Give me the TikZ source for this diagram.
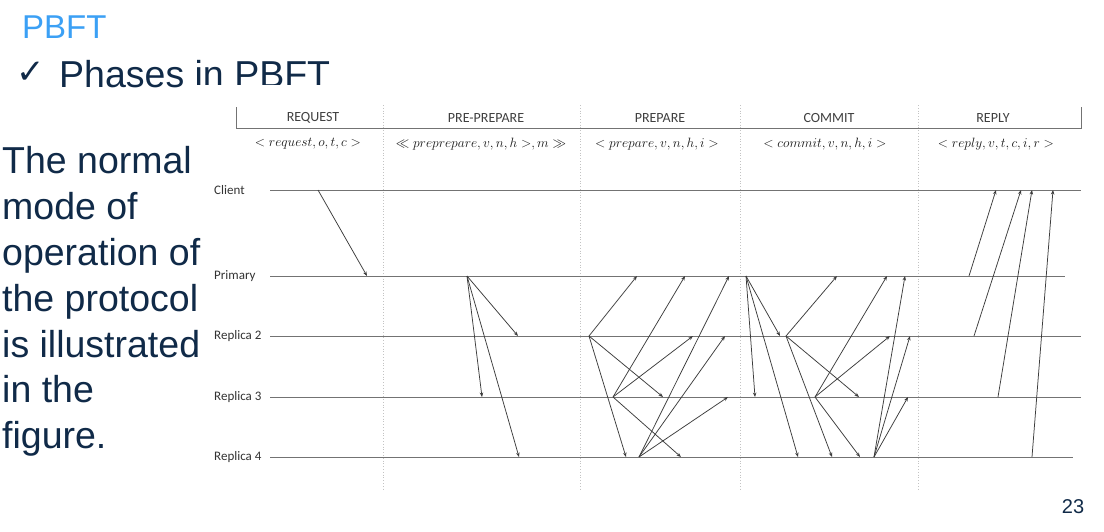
\RequirePackage{fix-cm}
\documentclass[tikz,border=0pt]{standalone}
\usepackage{fontspec}
\setmainfont{Liberation Sans}
\newfontfamily\calfont{Carlito}
\newfontfamily\symfont{DejaVu Sans}
\usetikzlibrary{arrows.meta}
\definecolor{ttlblue}{RGB}{59,160,245}
\definecolor{navy}{RGB}{16,42,72}
\definecolor{lifegray}{RGB}{115,115,115}
\definecolor{arrgray}{RGB}{60,60,60}
\definecolor{divgray}{RGB}{195,195,195}
\def\laneC{190}
\def\laneP{276}
\def\laneB{336}
\def\laneT{397}
\def\laneF{457}
\begin{document}
\begin{tikzpicture}[x=1pt,y=-1pt,
  slidetxt/.style={anchor=base west, inner sep=0pt, text=navy, font=\fontsize{37.5}{37.5}\selectfont},
  lanelbl/.style={anchor=west, inner sep=0pt, font=\calfont\fontsize{13}{13}\selectfont, text=black!80},
  phaselbl/.style={inner sep=0pt, font=\calfont\fontsize{14}{14}\selectfont, text=black!75},
  msgfmt/.style={inner sep=0pt, font=\fontsize{13.5}{13.5}\selectfont, text=black!90},
  life/.style={draw=lifegray, line width=1pt},
  divider/.style={draw=divgray, dotted, line width=0.8pt},
  frameline/.style={draw=lifegray, line width=1pt},
  msg/.style={draw=arrgray, line width=0.75pt, -{Stealth[length=4.5pt,width=3.5pt]}},
]
\useasboundingbox[fill=white] (0,0) rectangle (1104,531);

% slide title and subtitle
\node[anchor=base west, inner sep=0pt, text=ttlblue, font=\fontsize{33}{33}\selectfont] (title) at (22,38) {PBFT};
\node[anchor=base west, inner sep=0pt, text=navy, font=\symfont\fontsize{34}{34}\selectfont] (check) at (16,83) {✓};
\node[anchor=base west, inner sep=0pt, text=navy, font=\fontsize{37.5}{37.5}\selectfont] (subtitle) at (59,87) {Phases in PBFT};

% diagram background (covers bottom of subtitle)
\fill[white] (197,85) rectangle (1100,495);

% left text
\node[slidetxt] (t1) at (2,173) {The normal};
\node[slidetxt] (t2) at (2,219) {mode of};
\node[slidetxt] (t3) at (2,265) {operation of};
\node[slidetxt] (t4) at (2,311) {the protocol};
\node[slidetxt] (t5) at (2,357) {is illustrated};
\node[slidetxt] (t6) at (2,402) {in the};
\node[slidetxt] (t7) at (2,448) {figure.};

% page number
\node[inner sep=0pt, text=navy, font=\fontsize{20}{20}\selectfont] (pagenum) at (1073,507) {23};

% header frame
\draw[frameline] (236,107) -- (236,128) -- (1081,128) -- (1081,107);

% phase dividers
\foreach \dx in {383,580,740,918} \draw[divider] (\dx,105) -- (\dx,489);

% phase labels
\node[phaselbl] (ph1) at (313,118) {REQUEST};
\node[phaselbl] (ph2) at (486,118) {PRE-PREPARE};
\node[phaselbl] (ph3) at (660,118) {PREPARE};
\node[phaselbl] (ph4) at (829,118) {COMMIT};
\node[phaselbl] (ph5) at (993,118) {REPLY};

% message formats
\node[msgfmt] (f1) at (308,144) {$<request,o,t,c>$};
\node[msgfmt] (f2) at (481,144) {$\ll preprepare,v,n,h>,m\gg$};
\node[msgfmt] (f3) at (657,144) {$<prepare,v,n,h,i>$};
\node[msgfmt] (f4) at (825,144) {$<commit,v,n,h,i>$};
\node[msgfmt] (f5) at (996,144) {$<reply,v,t,c,i,r>$};

% lanes
\node[lanelbl] (client) at (214,\laneC) {Client};
\node[lanelbl] (primary) at (214,\laneP) {Primary};
\node[lanelbl] (rep2) at (214,\laneB) {Replica 2};
\node[lanelbl] (rep3) at (214,\laneT) {Replica 3};
\node[lanelbl] (rep4) at (214,\laneF) {Replica 4};
\draw[life] (270,\laneC) -- (1081,\laneC);
\draw[life] (270,\laneP) -- (1065,\laneP);
\draw[life] (270,\laneB) -- (1081,\laneB);
\draw[life] (270,\laneT) -- (1081,\laneT);
\draw[life] (270,\laneF) -- (1073,\laneF);

% messages
\foreach \sx/\sy/\ex/\ey [count=\i] in {
  318/\laneC/367/\laneP,
  467/\laneP/518/\laneB, 467/\laneP/482/\laneT, 467/\laneP/519/\laneF,
  589/\laneB/637/\laneP, 589/\laneB/663/\laneT, 589/\laneB/626/\laneF,
  613/\laneT/685/\laneP, 613/\laneT/693/\laneB, 613/\laneT/681/\laneF,
  639/\laneF/729/\laneP, 639/\laneF/725/\laneB, 639/\laneF/728/\laneT,
  746/\laneP/780/\laneB, 746/\laneP/755/\laneT, 746/\laneP/798/\laneF,
  786/\laneB/837/\laneP, 786/\laneB/859/\laneT, 786/\laneB/832/\laneF,
  815/\laneT/887/\laneP, 815/\laneT/890/\laneB, 815/\laneT/860/\laneF,
  874/\laneF/905/\laneP, 874/\laneF/910/\laneB, 874/\laneF/908/\laneT,
  969/\laneP/996/\laneC, 974/\laneB/1021/\laneC, 998/\laneT/1032/\laneC, 1032/\laneF/1053/\laneC}
{
  \coordinate (m\i s) at (\sx,\sy);
  \coordinate (m\i e) at (\ex,\ey);
  \draw[msg] (m\i s) -- (m\i e);
}
\end{tikzpicture}
\end{document}
